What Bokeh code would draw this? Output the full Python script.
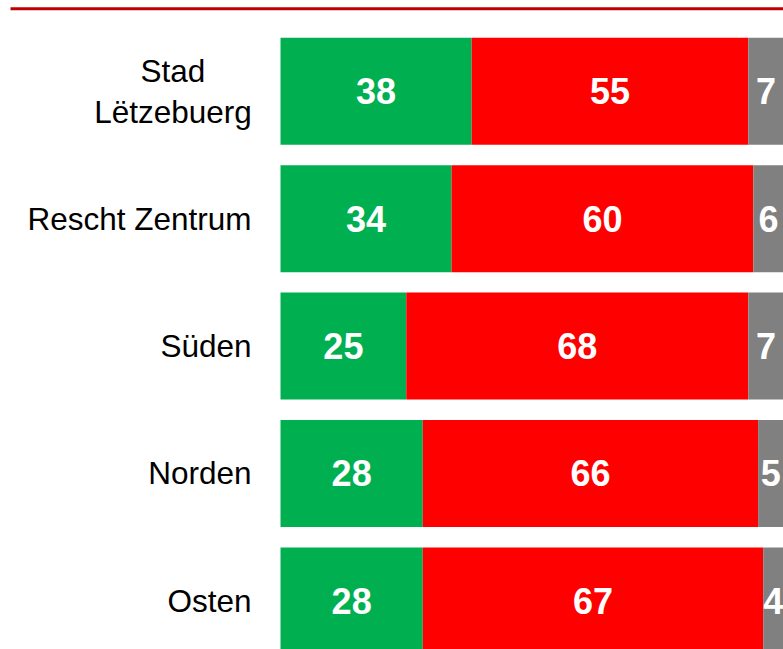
from bokeh.plotting import figure
from bokeh.models import ColumnDataSource, Range1d
from bokeh.embed import file_html
from bokeh.resources import INLINE
from bokeh.core.properties import value

categories = ["Stad\nLëtzebuerg", "Rescht Zentrum", "Süden", "Norden", "Osten"]
green_vals = [38, 34, 25, 28, 28]
red_vals = [55, 60, 68, 66, 67]
gray_vals = [7, 6, 7, 5, 4]

colors = ["#00B050", "#FF0000", "#808080"]
FONT = "Liberation Sans"

W, H = 783, 649
p = figure(width=W, height=H, output_backend="svg", toolbar_location=None,
           x_range=Range1d(-55.67, 100), y_range=Range1d(4.3815, -0.7127),
           min_border=0, min_border_left=0, min_border_right=0,
           min_border_top=0, min_border_bottom=0)
p.axis.visible = False
p.grid.visible = False
p.outline_line_color = None
p.background_fill_color = "white"

ys = list(range(len(categories)))
series = [green_vals, red_vals, gray_vals]
totals = [g + r + k for g, r, k in zip(green_vals, red_vals, gray_vals)]

lefts = [0.0] * len(categories)
tx, ty, tt = [], [], []
for vals, col in zip(series, colors):
    shares = [v / t * 100 for v, t in zip(vals, totals)]
    rights = [l + s for l, s in zip(lefts, shares)]
    src = ColumnDataSource(dict(y=ys, left=lefts, right=rights))
    p.hbar(y="y", left="left", right="right", height=0.84, source=src,
           fill_color=col, line_color=None)
    for i, v in enumerate(vals):
        tx.append((lefts[i] + rights[i]) / 2)
        ty.append(ys[i])
        tt.append(str(v))
    lefts = rights

p.text(x=tx, y=ty, text=tt, text_align="center", text_baseline="middle",
       text_color="white", text_font=value(FONT), text_font_style="bold",
       text_font_size="36px")

# category labels
single = [(i, c) for i, c in enumerate(categories) if "\n" not in c]
p.text(x=[-5.77] * len(single), y=[i for i, _ in single], text=[c for _, c in single],
       text_align="right", text_baseline="middle", text_color="black",
       text_font=value(FONT), text_font_size="31.5px")
multi = [(i, c) for i, c in enumerate(categories) if "\n" in c]
p.text(x=[-5.77] * len(multi), y=[i for i, _ in multi], text=[c for _, c in multi],
       text_align="center", text_baseline="middle", text_color="black",
       x_offset=-78.5, text_line_height=1.15,
       text_font=value(FONT), text_font_size="31.5px")

# top rule
p.segment(x0=[-53.68], x1=[100], y0=[-0.6476], y1=[-0.6476], line_color="#C00000", line_width=3)

open("out.html", "w").write(file_html(p, INLINE))
